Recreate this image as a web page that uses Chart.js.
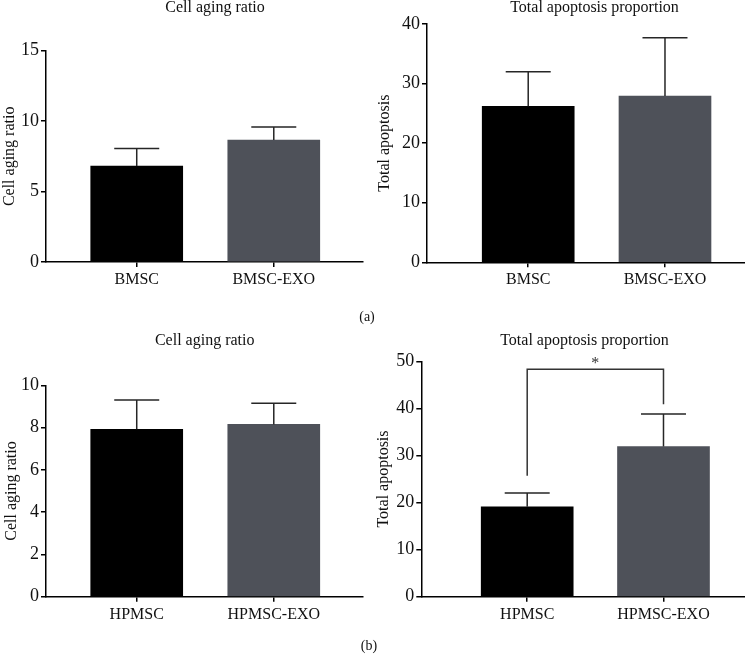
<!DOCTYPE html>
<html lang="en">
<head>
    <meta charset="UTF-8">
    <title>Cell aging ratio / Total apoptosis proportion</title>
    <style>
        body {
            margin: 0;
            background: #fff;
            width: 745px;
            height: 655px;
            overflow: hidden;
            position: relative;
            font-family: "Liberation Serif", "DejaVu Serif", serif;
        }
        canvas, .tag {
            position: absolute;
        }
        .tag {
            font-size: 14px;
            color: #111;
            transform: translate(-50%, -50%);
        }
    </style>
</head>
<body>
    <canvas id="a1" width="372" height="300" style="left:0;top:0"></canvas>
    <canvas id="a2" width="373" height="300" style="left:372px;top:0"></canvas>
    <canvas id="b1" width="372" height="355" style="left:0;top:300px"></canvas>
    <canvas id="b2" width="373" height="355" style="left:372px;top:300px"></canvas>
    <div class="tag" style="left:367px;top:317px">(a)</div>
    <div class="tag" style="left:369px;top:646px">(b)</div>

    <script src="https://cdn.jsdelivr.net/npm/chart.js"></script>
    <script>
        // groups
        const groupsA = ['BMSC', 'BMSC-EXO'];
        const groupsB = ['HPMSC', 'HPMSC-EXO'];

        // means and SD
        const agingA = [6.81, 8.66];
        const agingAsd = [1.25, 0.92];
        const apoptosisA = [26.2, 27.9];
        const apoptosisAsd = [5.8, 9.8];
        const agingB = [7.92, 8.15];
        const agingBsd = [1.38, 1.0];
        const apoptosisB = [19.1, 31.9];
        const apoptosisBsd = [2.9, 6.9];

        // y tick values
        const ticksAgingA = [0, 5, 10, 15];
        const ticksApoptosisA = [0, 10, 20, 30, 40];
        const ticksAgingB = [0, 2, 4, 6, 8, 10];
        const ticksApoptosisB = [0, 10, 20, 30, 40, 50];

        // significance bracket HPMSC vs HPMSC-EXO: top, left leg end, right leg end
        const sigB = [48.3, 25.7, 40.9];
        const sigLabel = '*';

        const SERIF = '"Liberation Serif", "DejaVu Serif", serif';
        const barColors = ['#000000', '#4e5159'];

        // SD whiskers drawn from the bar top up
        const errorBars = {
            id: 'errorBars',
            afterDatasetsDraw(chart, args, opts) {
                const {ctx, scales: {x, y}} = chart;
                const means = chart.data.datasets[0].data;
                ctx.save();
                ctx.strokeStyle = '#262626';
                ctx.lineWidth = 1.5;
                means.forEach((p, i) => {
                    const px = x.getPixelForValue(p.x);
                    const base = y.getPixelForValue(p.y);
                    const top = y.getPixelForValue(p.y + opts.sd[i]);
                    ctx.beginPath();
                    ctx.moveTo(px, base);
                    ctx.lineTo(px, top);
                    ctx.moveTo(px - 22.5, top);
                    ctx.lineTo(px + 22.5, top);
                    ctx.stroke();
                });
                ctx.restore();
            }
        };

        // panel title at a given spot
        const panelTitle = {
            id: 'panelTitle',
            afterDraw(chart, args, opts) {
                const ctx = chart.ctx;
                ctx.save();
                ctx.font = '16px ' + SERIF;
                ctx.fillStyle = '#111';
                ctx.textAlign = 'center';
                ctx.textBaseline = 'alphabetic';
                ctx.fillText(opts.text, opts.x, opts.y);
                ctx.restore();
            }
        };

        // significance bracket
        const bracket = {
            id: 'bracket',
            afterDatasetsDraw(chart, args, opts) {
                if (!opts.levels) return;
                const {ctx, scales: {x, y}} = chart;
                const [topV, leftV, rightV] = opts.levels;
                const x1 = x.getPixelForValue(1), x2 = x.getPixelForValue(2);
                const yt = y.getPixelForValue(topV);
                ctx.save();
                ctx.strokeStyle = '#333';
                ctx.lineWidth = 1.5;
                ctx.beginPath();
                ctx.moveTo(x1, y.getPixelForValue(leftV));
                ctx.lineTo(x1, yt);
                ctx.lineTo(x2, yt);
                ctx.lineTo(x2, y.getPixelForValue(rightV));
                ctx.stroke();
                ctx.font = '16px ' + SERIF;
                ctx.fillStyle = '#333';
                ctx.textAlign = 'center';
                ctx.textBaseline = 'alphabetic';
                ctx.fillText(opts.label, (x1 + x2) / 2, yt - 1);
                ctx.restore();
            }
        };

        function makePanel(id, p) {
            new Chart(document.getElementById(id), {
                type: 'bar',
                data: {
                    datasets: [{
                        data: p.means.map((v, i) => ({x: i + 1, y: v})),
                        backgroundColor: barColors,
                        borderWidth: 0,
                        barThickness: 92
                    }]
                },
                options: {
                    responsive: false,
                    animation: false,
                    layout: {padding: {top: p.top, right: p.right, bottom: 0, left: 0}},
                    plugins: {
                        legend: {display: false},
                        tooltip: {enabled: false},
                        errorBars: {sd: p.sd},
                        panelTitle: {text: p.title, x: p.titleX, y: p.titleY},
                        bracket: {levels: p.sig, label: sigLabel}
                    },
                    scales: {
                        x: {
                            type: 'linear',
                            offset: false,
                            min: p.xMin,
                            max: p.xMax,
                            afterBuildTicks: s => { s.ticks = p.groups.map((g, i) => ({value: i + 1})); },
                            afterFit: s => { s.height = p.xHeight; },
                            ticks: {
                                callback: (v, i) => p.groups[i],
                                color: '#111',
                                font: {family: SERIF, size: 16},
                                padding: 3,
                                maxRotation: 0,
                                autoSkip: false
                            },
                            grid: {offset: false, drawOnChartArea: false, drawTicks: true, tickLength: 5, color: '#000', lineWidth: 1.5},
                            border: {color: '#000', width: 1.5}
                        },
                        y: {
                            min: 0,
                            max: p.yTicks[p.yTicks.length - 1],
                            afterBuildTicks: s => { s.ticks = p.yTicks.map(v => ({value: v})); },
                            afterFit: s => { s.width = p.yWidth; },
                            ticks: {
                                color: '#111',
                                font: {family: SERIF, size: 18},
                                padding: 2,
                                autoSkip: false
                            },
                            title: {
                                display: true,
                                text: p.yTitle,
                                color: '#111',
                                font: {family: SERIF, size: 16},
                                padding: {top: p.yTitlePad, bottom: 0}
                            },
                            grid: {drawOnChartArea: false, drawTicks: true, tickLength: 5, color: '#000', lineWidth: 1.5},
                            border: {color: '#000', width: 1.5}
                        }
                    }
                },
                plugins: [errorBars, bracket, panelTitle]
            });
        }

        makePanel('a1', {
            groups: groupsA, means: agingA, sd: agingAsd, yTicks: ticksAgingA,
            title: 'Cell aging ratio', titleX: 215, titleY: 11.5,
            yTitle: 'Cell aging ratio', yTitlePad: 0,
            top: 50.7, right: 9, yWidth: 46, xHeight: 38, xMin: 0.338, xMax: 2.651
        });
        makePanel('a2', {
            groups: groupsA, means: apoptosisA, sd: apoptosisAsd, yTicks: ticksApoptosisA,
            title: 'Total apoptosis proportion', titleX: 222.5, titleY: 11.5,
            yTitle: 'Total apoptosis', yTitlePad: 3,
            top: 24, right: 0, yWidth: 55, xHeight: 37.7, xMin: 0.26, xMax: 2.585
        });
        makePanel('b1', {
            groups: groupsB, means: agingB, sd: agingBsd, yTicks: ticksAgingB,
            title: 'Cell aging ratio', titleX: 204.7, titleY: 45,
            yTitle: 'Cell aging ratio', yTitlePad: 2,
            top: 85.3, right: 9, yWidth: 46, xHeight: 58.3, xMin: 0.338, xMax: 2.651
        });
        makePanel('b2', {
            groups: groupsB, means: apoptosisB, sd: apoptosisBsd, yTicks: ticksApoptosisB,
            title: 'Total apoptosis proportion', titleX: 212.5, titleY: 45,
            yTitle: 'Total apoptosis', yTitlePad: 2.6, sig: sigB,
            top: 61.3, right: 0, yWidth: 49.3, xHeight: 58.3, xMin: 0.223, xMax: 2.598
        });
    </script>
</body>
</html>
